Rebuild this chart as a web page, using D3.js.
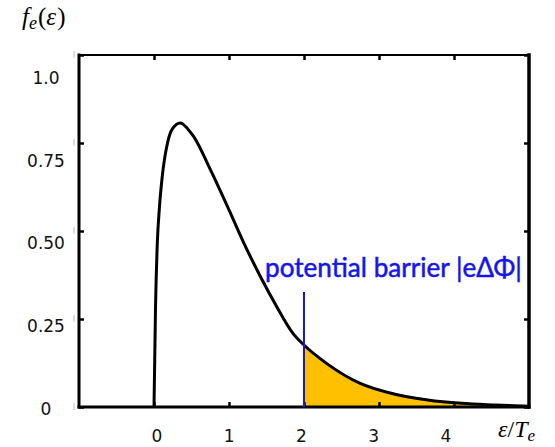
<!DOCTYPE html>
<html>
<head>
<meta charset="utf-8">
<script src="https://cdn.jsdelivr.net/npm/d3@7"></script>
<style>
  body { margin: 0; background: #fff; }
</style>
</head>
<body>
<div id="viz"></div>
<script>
// energy in units of T_e
const energy = [0, 0.02, 0.045, 0.07, 0.11, 0.18, 0.245, 0.35, 0.45, 0.53, 0.75, 1.0, 1.2, 1.42, 1.65, 1.85, 2.0, 2.3, 2.75, 3.2, 3.65, 4.1, 4.55, 5.0]
const density = [0, 0.28, 0.47, 0.56, 0.655, 0.75, 0.79, 0.807, 0.79, 0.768, 0.675, 0.56, 0.465, 0.37, 0.28, 0.21, 0.176, 0.124, 0.067, 0.037, 0.02, 0.0105, 0.0057, 0.002]

const xTicks = [0, 1, 2, 3, 4]
const yTicks = [0, 0.25, 0.5, 0.75, 1.0]
const yTickLabels = ["0", "0.25", "0.50", "0.75", "1.0"]
const barrier = 2.0
const barrierLabel = "potential barrier |eΔΦ|"

const width = 555
const height = 447

const svg = d3.select("#viz").append("svg").attr("width", width).attr("height", height)

const xScale = d3.scaleLinear().domain([-1, 5]).range([79, 529])
const yScale = d3.scaleLinear().domain([0, 1]).range([407, 55])

// the tick labels sit a little off the ticks in the original, so they get their own scales
const xLabelScale = d3.scaleLinear().domain([0, 4]).range([157, 446])
const yLabelScale = d3.scaleLinear().domain([0, 1]).range([409, 78])

const data = energy.map((e, i) => ({e: e, f: density[i]}))

// shaded tail beyond the barrier
const area = d3.area()
    .x(d => xScale(d.e))
    .y0(yScale(0))
    .y1(d => yScale(d.f))
    .curve(d3.curveMonotoneX)

svg.append("path")
    .datum(data.filter(d => d.e >= barrier))
    .attr("d", area)
    .attr("fill", "#ffc000")

const line = d3.line()
    .x(d => xScale(d.e))
    .y(d => yScale(d.f))
    .curve(d3.curveMonotoneX)

svg.append("path")
    .datum(data)
    .attr("d", line)
    .attr("fill", "none")
    .attr("stroke", "#000")
    .attr("stroke-width", 3)

// inner ticks on all four sides
const tickAxes = [
    {axis: d3.axisTop(xScale).tickValues(xTicks).tickSize(-5), t: `translate(0, ${yScale(1)})`},
    {axis: d3.axisBottom(xScale).tickValues(xTicks).tickSize(-5), t: `translate(0, ${yScale(0)})`},
    {axis: d3.axisLeft(yScale).tickValues(yTicks).tickSize(-5), t: `translate(${xScale(-1)}, 0)`},
    {axis: d3.axisRight(yScale).tickValues(yTicks).tickSize(-5), t: `translate(${xScale(5)}, 0)`}
]
tickAxes.forEach(a => {
    const g = svg.append("g").attr("transform", a.t).call(a.axis.tickFormat(""))
    g.select(".domain").remove()
    g.selectAll("line").attr("stroke", "#000").attr("stroke-width", 2.5)
})

// faint marks left of the frame
svg.append("g")
    .selectAll("line")
    .data(yTicks)
    .join("line")
    .attr("x1", 74).attr("x2", 74)
    .attr("y1", d => yScale(d) - 4)
    .attr("y2", d => yScale(d) + 3)
    .attr("stroke", "#bbb")
    .attr("stroke-width", 1)

// frame
const frame = svg.append("g").attr("stroke", "#000").attr("stroke-linecap", "square")
frame.append("line").attr("x1", xScale(-1)).attr("x2", xScale(5)).attr("y1", yScale(1)).attr("y2", yScale(1)).attr("stroke-width", 2)
frame.append("line").attr("x1", xScale(-1)).attr("x2", xScale(5)).attr("y1", yScale(0)).attr("y2", yScale(0)).attr("stroke-width", 3)
frame.append("line").attr("x1", xScale(-1)).attr("x2", xScale(-1)).attr("y1", yScale(1)).attr("y2", yScale(0)).attr("stroke-width", 3)
frame.append("line").attr("x1", xScale(5)).attr("x2", xScale(5)).attr("y1", yScale(1)).attr("y2", yScale(0)).attr("stroke-width", 3.5)

// barrier
svg.append("line")
    .attr("x1", xScale(barrier)).attr("x2", xScale(barrier))
    .attr("y1", 292).attr("y2", yScale(0))
    .attr("stroke", "#1414ee")
    .attr("stroke-width", 2)

const barrierText = svg.append("text")
    .attr("x", 265)
    .attr("y", 277)
    .attr("fill", "#1414ee")
    .attr("stroke", "#1414ee")
    .attr("stroke-width", 0.5)
    .style("font-family", "Lato, sans-serif")
    .style("font-size", "24px")
    .text(barrierLabel)
const len = barrierText.node().getComputedTextLength()
barrierText.style("font-size", (24 * 257 / len) + "px")

// tick labels
svg.append("g")
    .selectAll("text")
    .data(xTicks)
    .join("text")
    .attr("x", d => xLabelScale(d))
    .attr("y", 442)
    .attr("text-anchor", "middle")
    .style("font-family", "'DejaVu Sans', sans-serif")
    .style("font-size", "17px")
    .attr("fill", "#111")
    .text(d => d)

svg.append("g")
    .selectAll("text")
    .data(yTicks)
    .join("text")
    .attr("x", 46)
    .attr("y", d => yLabelScale(d))
    .attr("dy", "0.35em")
    .attr("text-anchor", "middle")
    .style("font-family", "'DejaVu Sans', sans-serif")
    .style("font-size", "17px")
    .attr("fill", "#111")
    .text((d, i) => yTickLabels[i])

// axis titles
const yTitle = svg.append("text")
    .attr("x", 22)
    .attr("y", 25)
    .style("font-family", "'Liberation Serif', serif")
    .style("font-size", "25px")
yTitle.append("tspan").style("font-style", "italic").text("f")
yTitle.append("tspan").style("font-style", "italic").style("font-size", "18px").attr("dy", 4).text("e")
yTitle.append("tspan").attr("dy", -4).attr("dx", 1).text("(")
yTitle.append("tspan").style("font-style", "italic").text("ε")
yTitle.append("tspan").attr("dx", 1).text(")")

const xTitle = svg.append("text")
    .attr("x", 498)
    .attr("y", 437)
    .style("font-family", "'Liberation Serif', serif")
    .style("font-size", "24px")
xTitle.append("tspan").style("font-style", "italic").text("ε")
xTitle.append("tspan").text("/")
xTitle.append("tspan").style("font-style", "italic").text("T")
xTitle.append("tspan").style("font-style", "italic").style("font-size", "17px").attr("dy", 4).text("e")
</script>
</body>
</html>
